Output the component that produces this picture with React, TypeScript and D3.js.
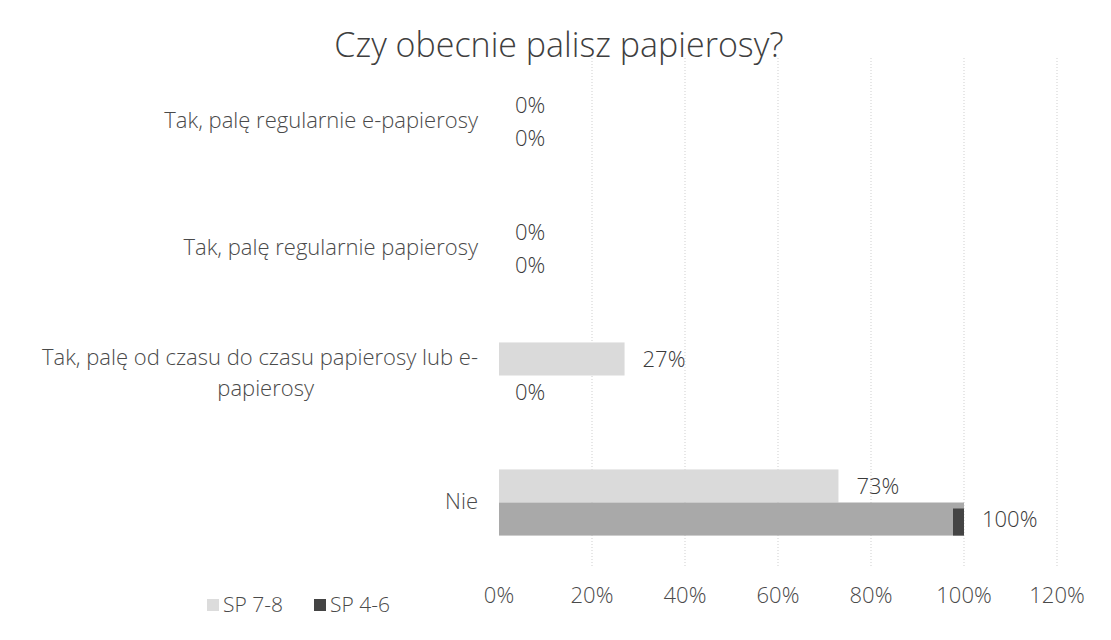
import React from 'react';
import * as d3 from 'd3';

const categories = [
  'Tak, palę regularnie e-papierosy',
  'Tak, palę regularnie papierosy',
  'Tak, palę od czasu do czasu papierosy lub e-papierosy',
  'Nie',
];
const seriesNames = ['SP 7-8', 'SP 4-6'];
const sp78 = [0, 0, 27, 73];
const sp46 = [0, 0, 0, 100];
const xTicks = [0, 20, 40, 60, 80, 100, 120];

const W = 1111;
const H = 640;
const font = '"Open Sans", Lato, sans-serif';

const App: React.FC = () => {
  const ref = React.useRef<SVGSVGElement>(null);

  React.useEffect(() => {
    const svg = d3.select(ref.current);
    svg.selectAll('*').remove();

    const x = d3.scaleLinear().domain([0, 120]).range([499, 1057]);
    const y = d3.scaleBand<string>().domain(categories).range([58, 566]);
    const inner = d3.scaleBand<string>().domain(seriesNames).range([0, y.bandwidth()]).paddingOuter(0.92).paddingInner(0);

    const colors: Record<string, string> = { 'SP 7-8': '#dadada', 'SP 4-6': '#a9a9a9' };
    const legendColors: Record<string, string> = { 'SP 7-8': '#dcdcdc', 'SP 4-6': '#444' };

    svg.append('rect').attr('width', W).attr('height', H).attr('fill', '#fff');

    // title
    svg.append('text')
      .attr('x', 559).attr('y', 57)
      .attr('text-anchor', 'middle')
      .attr('font-family', font).attr('font-size', 34).attr('font-weight', 300)
      .attr('fill', '#3f3f3f')
      .text('Czy obecnie palisz papierosy?');

    // gridlines
    svg.append('g').selectAll('line')
      .data(xTicks.filter(t => t > 0))
      .join('line')
      .attr('x1', d => x(d)).attr('x2', d => x(d))
      .attr('y1', 58).attr('y2', 566)
      .attr('stroke', '#cfcfcf')
      .attr('stroke-width', 1)
      .attr('stroke-dasharray', '1,2');

    const txt = (sel: any) => sel
      .attr('font-family', font).attr('font-size', 22).attr('font-weight', 300);

    // x axis labels
    svg.append('g').selectAll('text')
      .data(xTicks)
      .join('text')
      .call(txt)
      .attr('x', d => x(d)).attr('y', 603)
      .attr('text-anchor', 'middle')
      .attr('fill', '#4a4a4a')
      .text(d => `${d}%`);

    // category labels
    const catG = svg.append('g').call(txt).attr('fill', '#4a4a4a');
    categories.forEach((c, i) => {
      const cy = y(c)! + y.bandwidth() / 2;
      if (i === 2) {
        catG.append('text').attr('x', 478).attr('y', cy - 11).attr('text-anchor', 'end')
          .text('Tak, palę od czasu do czasu papierosy lub e-');
        catG.append('text').attr('x', 314).attr('y', cy + 20).attr('text-anchor', 'end')
          .text('papierosy');
      } else {
        catG.append('text').attr('x', 478).attr('y', cy + 6).attr('text-anchor', 'end').text(c);
      }
    });

    // bars
    const series = [sp78, sp46];
    seriesNames.forEach((name, si) => {
      const g = svg.append('g');
      categories.forEach((c, ci) => {
        const v = series[si][ci];
        const by = y(c)! + inner(name)!;
        const bh = inner.bandwidth();
        if (v > 0) {
          g.append('rect')
            .attr('x', x(0)).attr('y', by)
            .attr('width', x(v) - x(0)).attr('height', bh)
            .attr('fill', colors[name]);
          if (name === 'SP 4-6') {
            g.append('rect')
              .attr('x', x(v) - 11).attr('y', by + 6)
              .attr('width', 11).attr('height', bh - 6)
              .attr('fill', '#444');
          }
        }
        g.append('text')
          .call(txt)
          .attr('x', x(v) + (v > 0 ? 18 : 16))
          .attr('y', by + bh / 2 + 8)
          .attr('fill', '#3a3a3a')
          .text(`${v}%`);
      });
    });

    // legend
    const leg = svg.append('g').call(txt).attr('font-size', 21).attr('fill', '#4a4a4a');
    const legX = [207, 314];
    seriesNames.forEach((name, i) => {
      leg.append('rect').attr('x', legX[i]).attr('y', 599).attr('width', 12).attr('height', 12)
        .attr('fill', legendColors[name]);
      leg.append('text').attr('x', legX[i] + 16).attr('y', 612).text(name);
    });
  }, []);

  return (
    <div style={{ margin: -8 }}>
      <svg ref={ref} width={W} height={H} style={{ display: 'block' }} />
    </div>
  );
};

export default App;
